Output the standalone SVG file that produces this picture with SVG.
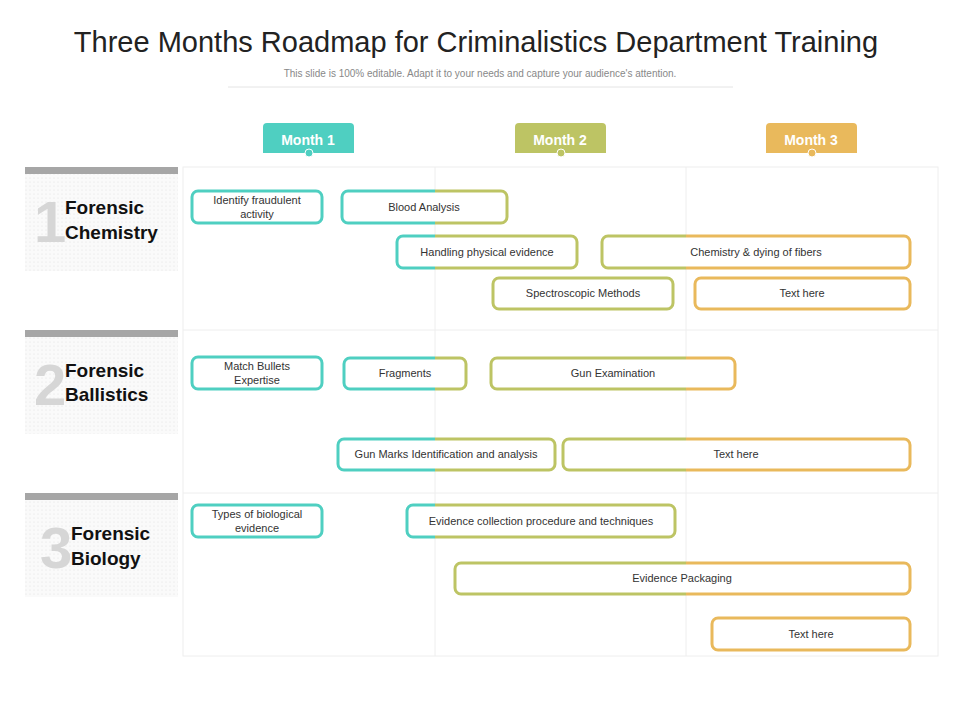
<svg xmlns="http://www.w3.org/2000/svg" width="960" height="720" viewBox="0 0 960 720">
<defs>
<linearGradient id="g" gradientUnits="userSpaceOnUse" x1="0" y1="0" x2="960" y2="0">
<stop offset="0" stop-color="#4FCFC1"/><stop offset="0.4531" stop-color="#4FCFC1"/>
<stop offset="0.4531" stop-color="#BDC464"/><stop offset="0.7146" stop-color="#BDC464"/>
<stop offset="0.7146" stop-color="#E9B95C"/><stop offset="1" stop-color="#E9B95C"/>
</linearGradient>
<pattern id="dots" width="4" height="4" patternUnits="userSpaceOnUse"><rect width="4" height="4" fill="#fafafa"/><circle cx="2" cy="2" r="0.6" fill="#e2e2e2"/></pattern>
</defs>
<style>
.t{font-family:"Liberation Sans Narrow","Liberation Sans",Arial,sans-serif;}
.box{fill:#fff;stroke:url(#g);stroke-width:3}
.bt{font-family:"Liberation Sans Narrow","Liberation Sans",sans-serif;font-size:11px;fill:#333;text-anchor:middle}
.lab{font-family:"Liberation Sans Narrow","Liberation Sans",sans-serif;font-size:19px;font-weight:bold;fill:#111}
.num{font-family:"Liberation Sans",sans-serif;font-size:58px;font-weight:bold;fill:#d6d6d6}
.mt{font-family:"Liberation Sans",sans-serif;font-size:14px;font-weight:bold;fill:#fff;text-anchor:middle}
.grid{fill:none;stroke:#eeeeee;stroke-width:1}
</style>
<rect width="960" height="720" fill="#fff"/>
<text x="476" y="52" class="t" font-size="29" fill="#222" text-anchor="middle" font-family="Liberation Sans Narrow, Liberation Sans, sans-serif">Three Months Roadmap for Criminalistics Department Training</text>
<text x="480" y="77" font-family="Liberation Sans, sans-serif" font-size="10" fill="#888" text-anchor="middle">This slide is 100% editable.  Adapt it to your needs and capture your audience's attention.</text>
<line x1="228" y1="87" x2="733" y2="87" stroke="#e4e4e4"/>
<g id="grid">
<rect x="183" y="167" width="755" height="489" class="grid"/>
<line x1="435" y1="167" x2="435" y2="656" class="grid"/>
<line x1="686" y1="167" x2="686" y2="656" class="grid"/>
<line x1="183" y1="330" x2="938" y2="330" class="grid"/>
<line x1="183" y1="493" x2="938" y2="493" class="grid"/>
</g>
<g id="month1"><rect x="263" y="123" width="91" height="30" rx="4" fill="#4FCFC1"/><rect x="263" y="140" width="91" height="13" fill="#4FCFC1"/><text x="308" y="145" class="mt">Month 1</text><circle cx="309" cy="153" r="4" fill="#4FCFC1" stroke="#fff" stroke-width="1"/></g>
<g id="month2"><rect x="515" y="123" width="91" height="30" rx="4" fill="#BDC464"/><rect x="515" y="140" width="91" height="13" fill="#BDC464"/><text x="560" y="145" class="mt">Month 2</text><circle cx="561" cy="153" r="4" fill="#BDC464" stroke="#fff" stroke-width="1"/></g>
<g id="month3"><rect x="766" y="123" width="91" height="30" rx="4" fill="#E9B95C"/><rect x="766" y="140" width="91" height="13" fill="#E9B95C"/><text x="811" y="145" class="mt">Month 3</text><circle cx="812" cy="153" r="4" fill="#E9B95C" stroke="#fff" stroke-width="1"/></g>
<g id="row1"><rect x="25" y="167" width="153" height="104" fill="url(#dots)"/><rect x="25" y="167" width="153" height="7" fill="#a6a6a6"/><text x="34" y="242" class="num">1</text><text x="65" y="214" class="lab">Forensic</text><text x="65" y="239" class="lab">Chemistry</text></g>
<g id="row2"><rect x="25" y="330" width="153" height="104" fill="url(#dots)"/><rect x="25" y="330" width="153" height="7" fill="#a6a6a6"/><text x="34" y="405" class="num">2</text><text x="65" y="377" class="lab">Forensic</text><text x="65" y="401" class="lab">Ballistics</text></g>
<g id="row3"><rect x="25" y="493" width="153" height="104" fill="url(#dots)"/><rect x="25" y="493" width="153" height="7" fill="#a6a6a6"/><text x="40" y="568" class="num">3</text><text x="71" y="540" class="lab">Forensic</text><text x="71" y="565" class="lab">Biology</text></g>
<g id="n1"><rect x="192" y="191" width="130" height="32" rx="6" class="box"/><text x="257" y="204" class="bt">Identify fraudulent</text><text x="257" y="218" class="bt">activity</text></g>
<g id="n2"><rect x="342" y="191" width="165" height="32" rx="6" class="box"/><text x="424" y="211" class="bt">Blood Analysis</text></g>
<g id="n3"><rect x="397" y="236" width="180" height="32" rx="6" class="box"/><text x="487" y="256" class="bt">Handling physical evidence</text></g>
<g id="n4"><rect x="602" y="236" width="308" height="32" rx="6" class="box"/><text x="756" y="256" class="bt">Chemistry &amp; dying of fibers</text></g>
<g id="n5"><rect x="493" y="278" width="180" height="31" rx="6" class="box"/><text x="583" y="297" class="bt">Spectroscopic Methods</text></g>
<g id="n6"><rect x="695" y="278" width="215" height="31" rx="6" class="box"/><text x="802" y="297" class="bt">Text here</text></g>
<g id="n7"><rect x="192" y="357" width="130" height="32" rx="6" class="box"/><text x="257" y="370" class="bt">Match Bullets</text><text x="257" y="384" class="bt">Expertise</text></g>
<g id="n8"><rect x="344" y="358" width="122" height="31" rx="6" class="box"/><text x="405" y="377" class="bt">Fragments</text></g>
<g id="n9"><rect x="491" y="358" width="244" height="31" rx="6" class="box"/><text x="613" y="377" class="bt">Gun Examination</text></g>
<g id="n10"><rect x="338" y="439" width="217" height="31" rx="6" class="box"/><text x="446" y="458" class="bt">Gun Marks Identification and analysis</text></g>
<g id="n11"><rect x="563" y="439" width="347" height="31" rx="6" class="box"/><text x="736" y="458" class="bt">Text here</text></g>
<g id="n12"><rect x="192" y="505" width="130" height="32" rx="6" class="box"/><text x="257" y="518" class="bt">Types of biological</text><text x="257" y="532" class="bt">evidence</text></g>
<g id="n13"><rect x="407" y="505" width="268" height="32" rx="6" class="box"/><text x="541" y="525" class="bt">Evidence collection procedure and techniques</text></g>
<g id="n14"><rect x="455" y="563" width="455" height="31" rx="6" class="box"/><text x="682" y="582" class="bt">Evidence Packaging</text></g>
<g id="n15"><rect x="712" y="618" width="198" height="32" rx="6" class="box"/><text x="811" y="638" class="bt">Text here</text></g>
<g id="connectors"></g>
</svg>
